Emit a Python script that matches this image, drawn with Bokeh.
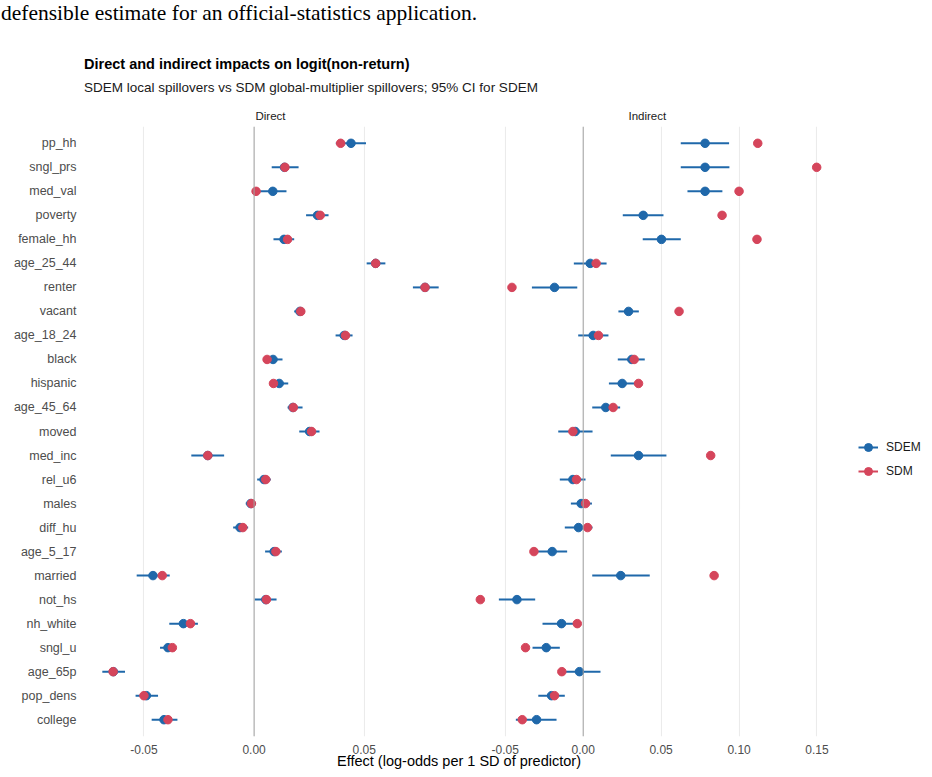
from bokeh.plotting import figure
from bokeh.models import (ColumnDataSource, FactorRange, Range1d, FixedTicker,
                          NumeralTickFormatter, Span, Legend, LegendItem, Div, Title)
from bokeh.layouts import column, row
from bokeh.embed import file_html
from bokeh.resources import INLINE

# Predictors, top to bottom
predictors = ["pp_hh", "sngl_prs", "med_val", "poverty", "female_hh", "age_25_44",
              "renter", "vacant", "age_18_24", "black", "hispanic", "age_45_64",
              "moved", "med_inc", "rel_u6", "males", "diff_hu", "age_5_17",
              "married", "not_hs", "nh_white", "sngl_u", "age_65p", "pop_dens", "college"]

# Direct effects: SDEM estimate with 95% CI, and SDM estimate
direct_sdem = [0.0440, 0.0138, 0.0085, 0.0288, 0.0136, 0.0552, 0.0776, 0.0208, 0.0409,
               0.0086, 0.0114, 0.0176, 0.0252, -0.0210, 0.0045, -0.0015, -0.0064, 0.0091,
               -0.0459, 0.0053, -0.0321, -0.0391, -0.0639, -0.0489, -0.0409]
direct_lo = [0.0371, 0.0080, 0.0026, 0.0236, 0.0088, 0.0511, 0.0721, 0.0182, 0.0370,
             0.0045, 0.0083, 0.0152, 0.0205, -0.0285, 0.0014, -0.0038, -0.0095, 0.0050,
             -0.0533, 0.0003, -0.0385, -0.0427, -0.0689, -0.0538, -0.0465]
direct_hi = [0.0508, 0.0202, 0.0147, 0.0338, 0.0182, 0.0596, 0.0838, 0.0227, 0.0447,
             0.0129, 0.0155, 0.0220, 0.0297, -0.0136, 0.0076, 0.0008, -0.0027, 0.0126,
             -0.0383, 0.0102, -0.0255, -0.0356, -0.0586, -0.0436, -0.0348]
direct_sdm = [0.0393, 0.0140, 0.0009, 0.0300, 0.0152, 0.0552, 0.0776, 0.0212, 0.0415,
              0.0059, 0.0088, 0.0178, 0.0261, -0.0210, 0.0053, -0.0012, -0.0051, 0.0099,
              -0.0417, 0.0056, -0.0289, -0.0371, -0.0640, -0.0500, -0.0391]

# Indirect effects: SDEM estimate with 95% CI, and SDM estimate
indirect_sdem = [0.0782, 0.0782, 0.0782, 0.0385, 0.0502, 0.0045, -0.0184, 0.0291, 0.0064,
                 0.0312, 0.0250, 0.0145, -0.0051, 0.0355, -0.0066, -0.0013, -0.0030, -0.0199,
                 0.0241, -0.0425, -0.0139, -0.0237, -0.0024, -0.0203, -0.0299]
indirect_lo = [0.0626, 0.0626, 0.0669, 0.0254, 0.0382, -0.0060, -0.0329, 0.0226, -0.0032,
               0.0222, 0.0165, 0.0058, -0.0160, 0.0177, -0.0150, -0.0079, -0.0118, -0.0293,
               0.0058, -0.0541, -0.0261, -0.0325, -0.0132, -0.0288, -0.0432]
indirect_hi = [0.0936, 0.0938, 0.0893, 0.0515, 0.0626, 0.0150, -0.0038, 0.0357, 0.0162,
               0.0395, 0.0333, 0.0237, 0.0060, 0.0534, 0.0015, 0.0056, 0.0060, -0.0103,
               0.0427, -0.0308, -0.0053, -0.0150, 0.0111, -0.0118, -0.0171]
indirect_sdm = [0.1120, 0.1498, 0.1000, 0.0891, 0.1115, 0.0083, -0.0457, 0.0615, 0.0098,
                0.0327, 0.0355, 0.0192, -0.0066, 0.0818, -0.0043, 0.0015, 0.0028, -0.0316,
                0.0840, -0.0660, -0.0038, -0.0370, -0.0137, -0.0184, -0.0391]

direct_ticks = [-0.05, 0.0, 0.05]
indirect_ticks = [-0.05, 0.0, 0.05, 0.10, 0.15]

BLUE = "#1F68AA"
RED = "#D5455B"
FONT = "Liberation Sans"
FIG_H = 653
PANEL_W = 370      # drawing width of each facet, px
LEGEND_W = 99      # room kept right of the second facet for the legend


def padded_limits(*series):
    vals = [v for s in series for v in s]
    lo, hi = min(vals), max(vals)
    pad = (hi - lo) * 0.05
    return lo - pad, hi + pad


def panel(strip, est, lo, hi, sdm, ticks, left_border, extra_right, show_y, strip_offset):
    src = ColumnDataSource(dict(pred=predictors, est=est, lo=lo, hi=hi, sdm=sdm))
    yr = FactorRange(factors=predictors[::-1], range_padding=0.2,
                     range_padding_units="absolute")
    x0, x1 = padded_limits(lo, hi, sdm, est)
    # frame may run past the facet (legend room); the data scale stays per facet
    x_end = x1 + (x1 - x0) * extra_right / PANEL_W
    p = figure(width=left_border + PANEL_W + extra_right, height=FIG_H, y_range=yr,
               x_range=Range1d(x0, x_end),
               output_backend="svg", toolbar_location=None,
               min_border_left=left_border, min_border_right=0,
               min_border_top=0, min_border_bottom=0)
    p.title = Title(text=strip, align="center" if strip_offset is None else "left",
                    offset=0 if strip_offset is None else strip_offset,
                    text_font=FONT, text_font_size="11.5px",
                    text_font_style="normal", text_color="#1A1A1A", standoff=9)
    p.outline_line_color = None
    p.background_fill_color = "white"
    p.border_fill_color = "white"

    for g in (p.xgrid, p.ygrid):
        g.grid_line_color = "#EBEBEB"
        g.grid_line_width = 1.1
    p.xgrid.ticker = FixedTicker(ticks=ticks)
    p.ygrid.bounds = (x0, x1)

    p.xaxis.ticker = FixedTicker(ticks=ticks)
    p.xaxis.formatter = NumeralTickFormatter(format="0.00")
    for ax in (p.xaxis, p.yaxis):
        ax.axis_line_color = None
        ax.major_tick_line_color = None
        ax.minor_tick_line_color = None
        ax.major_tick_out = 0
        ax.major_tick_in = 0
        ax.major_label_text_font = FONT
        ax.major_label_text_color = "#4D4D4D"
    p.xaxis.major_label_text_font_size = "12px"
    p.yaxis.major_label_text_font_size = "12.5px"
    p.xaxis.major_label_standoff = 8
    p.yaxis.major_label_standoff = 9
    p.yaxis.visible = show_y

    p.add_layout(Span(location=0, dimension="height", line_color="#A3A3A3", line_width=1))

    ci = p.segment(x0="lo", x1="hi", y0="pred", y1="pred", source=src,
                   line_color=BLUE, line_width=2)
    pt_sdem = p.scatter(x="est", y="pred", source=src, size=8.5,
                        fill_color=BLUE, line_color=BLUE)
    sdm_key = p.segment(x0="sdm", x1="sdm", y0="pred", y1="pred", source=src,
                        line_color=RED, line_width=2)
    pt_sdm = p.scatter(x="sdm", y="pred", source=src, size=8.5,
                       fill_color=RED, line_color=RED)
    return p, (ci, pt_sdem, sdm_key, pt_sdm)


p1, _ = panel("Direct", direct_sdem, direct_lo, direct_hi, direct_sdm,
              direct_ticks, 85, 0, True, None)
p2, (ci, pt_sdem, sdm_key, pt_sdm) = panel("Indirect", indirect_sdem, indirect_lo, indirect_hi,
                                          indirect_sdm, indirect_ticks, 8, LEGEND_W, False, 165)

legend = Legend(items=[LegendItem(label="SDEM", renderers=[ci, pt_sdem]),
                       LegendItem(label="SDM", renderers=[sdm_key, pt_sdm])],
                location=(PANEL_W + 25, 255), orientation="vertical",
                glyph_width=20, glyph_height=20, spacing=4, padding=0, margin=0,
                label_standoff=8, label_text_font=FONT, label_text_font_size="12px",
                label_text_color="#1A1A1A", border_line_color=None,
                background_fill_alpha=0)
p2.add_layout(legend, "center")

header = Div(width=932, height=103, styles={"margin": "0", "padding": "0"}, text="""
<div style="position:relative;width:932px;height:103px;margin:0;padding:0;">
  <div style="position:absolute;left:1px;top:-2px;font-family:'Liberation Serif';font-size:21.5px;color:#000;white-space:nowrap;">defensible estimate for an official-statistics application.</div>
  <div style="position:absolute;left:84px;top:54px;font-family:'Liberation Sans';font-weight:bold;font-size:14.5px;color:#000;white-space:nowrap;">Direct and indirect impacts on logit(non-return)</div>
  <div style="position:absolute;left:84px;top:78px;font-family:'Liberation Sans';font-size:13.5px;color:#1A1A1A;white-space:nowrap;">SDEM local spillovers vs SDM global-multiplier spillovers; 95% CI for SDEM</div>
</div>""")

footer = Div(width=932, height=18, styles={"margin": "0", "padding": "0", "overflow": "visible"}, text="""
<div style="position:relative;width:932px;height:18px;margin:0;padding:0;overflow:visible;">
  <div style="position:absolute;left:85px;width:748px;top:-5px;text-align:center;font-family:'Liberation Sans';font-size:14.5px;color:#000;white-space:nowrap;">Effect (log-odds per 1 SD of predictor)</div>
</div>""")

page = column(header, row(p1, p2, spacing=0), footer, spacing=0)

with open("out.html", "w") as f:
    f.write(file_html(page, INLINE))
